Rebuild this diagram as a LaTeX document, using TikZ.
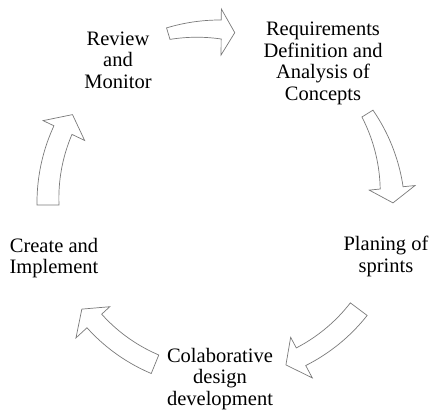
\documentclass[tikz,border=0pt]{standalone}
\usepackage{fontspec}
\setmainfont{Liberation Serif}
\usetikzlibrary{calc, positioning}
\definecolor{xgray}{HTML}{7A7A7A}
\tikzset{
	stage/.style = {align=center, anchor=north, inner sep=0pt, font=\fontsize{20.5}{21.5}\selectfont},
	blockarrow/.style = {draw=xgray, fill=white, line width=0.7pt, line join=miter},
}
% block arc arrow round (220,205): tail angle, base angle, tip angle,
% tail inner/outer radius, head inner/outer radius
\newcommand{\cyclearrow}[7]{%
	\draw[blockarrow]
		plot[domain=#1:#2, samples=25] ({220+(#5+(#7-#5)*(\x-#1)/(#2-#1))*cos(\x)}, {205+(#5+(#7-#5)*(\x-#1)/(#2-#1))*sin(\x)})
		-- ({220+196*cos(#2)}, {205+196*sin(#2)})
		-- ({220+173*cos(#3)}, {205+173*sin(#3)})
		-- ({220+150*cos(#2)}, {205+150*sin(#2)})
		-- plot[domain=#2:#1, samples=25] ({220+(#4+(#6-#4)*(\x-#1)/(#2-#1))*cos(\x)}, {205+(#4+(#6-#4)*(\x-#1)/(#2-#1))*sin(\x)})
		-- cycle;
}

\begin{document}
\begin{tikzpicture}[x=1pt, y=-1pt]
	\useasboundingbox (0,0) rectangle (432,412);
	% arrows
	\cyclearrow{-106.8}{-89.6}{-85.1}{173}{185}{166}{185}
	\cyclearrow{-31.8}{-5.7}{-0.7}{167}{180}{161}{184}
	\cyclearrow{36.9}{61.9}{67.6}{163}{184}{162}{182}
	\cyclearrow{112.2}{137.3}{143}{162}{182}{161}{181}
	\cyclearrow{180}{205.5}{211.5}{161}{183}{164}{184}
	% stages
	\node[stage] (requirements) at (323,22) {Requirements\\Definition and\\Analysis of\\Concepts};
	\node[stage] (planing) at (386,236) {Planing of\\sprints};
	\node[stage] (colab) at (220,348) {Colaborative\\design\\development};
	\node[stage] (create) at (54,238) {Create and\\Implement};
	\node[stage] (review) at (118,31.5) {Review\\and\\Monitor};
\end{tikzpicture}
\end{document}
